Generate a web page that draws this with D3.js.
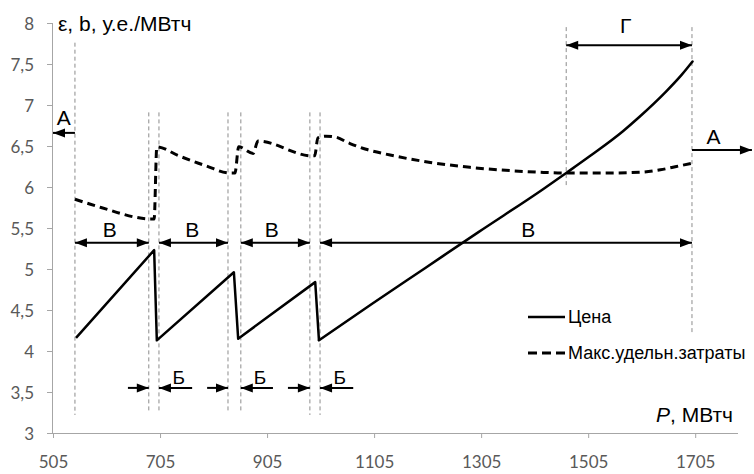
<!DOCTYPE html>
<html>
<head>
<meta charset="utf-8">
<script src="https://cdn.jsdelivr.net/npm/d3@7"></script>
<style>
  body { margin: 0; background: #fff; }
  svg { display: block; }
  .tick text { font-family: Lato, "Open Sans", sans-serif; font-size: 17px; fill: #595959; }
  .note { font-family: "Liberation Sans", Arial, sans-serif; fill: #000; }
</style>
</head>
<body>
<div id="chart"></div>
<script>
// Data
//--------------------------
// price, solid line (P in MWh, value in c.u./MWh); the last part is a smooth curve
var priceP = [548, 694, 699, 843, 851, 995, 1002, 1100, 1200, 1300, 1420, 1466, 1509, 1570, 1600, 1650, 1680, 1700];
var priceV = [4.16, 5.23, 4.13, 4.96, 4.15, 4.84, 4.13, 4.57, 5.01, 5.45, 5.97, 6.18, 6.38, 6.68, 6.85, 7.16, 7.37, 7.53];
var priceCurveFrom = 6; // index where the smooth part starts

// max specific cost, dashed line
var costP = [546, 575, 605, 635, 660, 684, 694, 699, 740, 790, 836, 845, 852, 879, 888, 989, 994, 1000, 1015, 1032, 1060, 1090, 1135, 1210, 1284, 1359, 1415, 1464, 1527, 1602, 1640, 1670, 1699];
var costV = [5.85, 5.79, 5.73, 5.67, 5.63, 5.61, 5.61, 6.49, 6.38, 6.26, 6.17, 6.17, 6.49, 6.41, 6.56, 6.38, 6.38, 6.60, 6.62, 6.61, 6.53, 6.46, 6.39, 6.30, 6.24, 6.20, 6.18, 6.17, 6.17, 6.18, 6.21, 6.25, 6.29];

var xTicks = [505, 705, 905, 1105, 1305, 1505, 1705];
var yTicks = [3, 3.5, 4, 4.5, 5, 5.5, 6, 6.5, 7, 7.5, 8];

// grey guide lines
var guideX = [546, 684, 703, 832, 856, 985, 1004, 1464, 1699];
var guideTop = [7.76, 6.91, 6.91, 6.91, 6.91, 6.91, 6.91, 7.95, 7.95];
var guideBottom = [3.22, 3.26, 3.26, 3.26, 3.26, 3.22, 3.22, 6.0, 4.22];

// "В" spans
var bSpans = [[546, 684], [703, 832], [856, 985], [1004, 1699]];
var bLabelX = [611, 765, 914, 1393];
var bLevel = 5.32;

// "Б" gaps: left arrow start, left guide, right guide, right arrow end
var gGaps = [[645, 684, 703, 765], [793, 832, 856, 916], [944, 985, 1004, 1066]];
var gLabelX = [740, 892, 1041];
var gLevel = 3.55;

var seriesNames = ["Цена", "Макс.удельн.затраты"];

// Sizing
//-------
var svgWidth = 754;
var svgHeight = 474;

var svg = d3.select("#chart")
  .append("svg")
  .attr("width", svgWidth)
  .attr("height", svgHeight);

var x = d3.scaleLinear().domain([505, 1785]).range([53, 738]);
var y = d3.scaleLinear().domain([3, 8]).range([433, 23]);

// Axes
var xAxis = svg.append("g")
  .attr("transform", `translate(0, ${y(3)})`)
  .call(d3.axisBottom(x).tickValues(xTicks).tickSize(5).tickPadding(18).tickFormat(d3.format("d")));

var yAxis = svg.append("g")
  .attr("transform", `translate(${x(505)}, 0)`)
  .call(d3.axisLeft(y).tickValues(yTicks).tickSize(6).tickPadding(13)
    .tickFormat(d => String(d).replace(".", ",")));

svg.selectAll(".domain, .tick line").attr("stroke", "#a6a6a6").attr("stroke-width", 1);
xAxis.select(".domain").attr("d", `M${x(505)},0.5H738`);
yAxis.select(".domain").attr("d", `M-0.5,${y(8)}V${y(3)}`);
yAxis.selectAll(".tick text").attr("dy", "0.36em");

// Guide lines
guideX.forEach(function(g, i) {
  svg.append("line")
    .attr("x1", x(g)).attr("x2", x(g))
    .attr("y1", y(guideTop[i])).attr("y2", y(guideBottom[i]))
    .attr("stroke", "#8c8c8c")
    .attr("stroke-width", 1)
    .attr("stroke-dasharray", "4,3");
});

// Series
var line = d3.line().x(d => x(d[0])).y(d => y(d[1]));
var smooth = d3.line().x(d => x(d[0])).y(d => y(d[1])).curve(d3.curveMonotoneX);

var costData = costP.map((p, i) => [p, costV[i]]);
svg.append("path")
  .datum(costData)
  .attr("d", smooth)
  .attr("fill", "none")
  .attr("stroke", "#000")
  .attr("stroke-width", 3)
  .attr("stroke-dasharray", "8,5");

var priceData = priceP.map((p, i) => [p, priceV[i]]);
svg.append("path")
  .datum(priceData.slice(0, priceCurveFrom + 1))
  .attr("d", line)
  .attr("fill", "none")
  .attr("stroke", "#000")
  .attr("stroke-width", 2.5)
  .attr("stroke-linejoin", "round");
svg.append("path")
  .datum(priceData.slice(priceCurveFrom))
  .attr("d", smooth)
  .attr("fill", "none")
  .attr("stroke", "#000")
  .attr("stroke-width", 2.5)
  .attr("stroke-linecap", "round");

// Arrows
function arrow(x1, x2, yy, headStart, headEnd) {
  var g = svg.append("g");
  g.append("line")
    .attr("x1", x1).attr("x2", x2)
    .attr("y1", yy).attr("y2", yy)
    .attr("stroke", "#000").attr("stroke-width", 2);
  function head(tip, dir) {
    g.append("path")
      .attr("d", `M${tip},${yy}L${tip - dir * 12},${yy - 4.5}L${tip - dir * 12},${yy + 4.5}Z`)
      .attr("fill", "#000");
  }
  var dir = x2 > x1 ? 1 : -1;
  if (headStart) head(x1, -dir);
  if (headEnd) head(x2, dir);
}

function note(txt, px, py, size) {
  svg.append("text")
    .attr("class", "note")
    .attr("x", px).attr("y", py)
    .attr("text-anchor", "middle")
    .attr("font-size", size)
    .text(txt);
}

bSpans.forEach(function(s, i) {
  arrow(x(s[0]), x(s[1]), y(bLevel), true, true);
  note("В", x(bLabelX[i]), y(bLevel) - 6, 21);
});

gGaps.forEach(function(s, i) {
  arrow(x(s[0]), x(s[1]), y(gLevel), false, true);
  arrow(x(s[3]), x(s[2]), y(gLevel), false, true);
  note("Б", x(gLabelX[i]), y(gLevel) - 4, 19);
});

// А on both sides, Г at top
arrow(x(546), x(505), y(6.66), false, true);
note("А", x(525), y(6.66) - 8, 21);
arrow(x(1699), x(1811), y(6.45), false, true);
note("А", x(1739), y(6.45) - 6, 21);
arrow(x(1464), x(1699), y(7.73), true, true);
note("Г", x(1575), y(7.73) - 12, 21);

// Axis titles
svg.append("text")
  .attr("class", "note")
  .attr("x", 58).attr("y", 31)
  .attr("font-size", 21)
  .text("ε, b, у.е./МВтч");

var pTitle = svg.append("text")
  .attr("class", "note")
  .attr("x", 733).attr("y", 422)
  .attr("text-anchor", "end")
  .attr("font-size", 21);
pTitle.append("tspan").attr("font-style", "italic").text("P");
pTitle.append("tspan").text(", МВтч");

// Legend
var legend = svg.append("g").attr("transform", "translate(528, 317)");
seriesNames.forEach(function(name, i) {
  var row = legend.append("g").attr("transform", `translate(0, ${i * 36})`);
  row.append("line")
    .attr("x1", 0).attr("x2", 37)
    .attr("stroke", "#000")
    .attr("stroke-width", i == 0 ? 2.5 : 3)
    .attr("stroke-dasharray", i == 0 ? null : "9,5");
  row.append("text")
    .attr("class", "note")
    .attr("x", 40).attr("y", 6)
    .attr("font-size", 18)
    .text(name);
});
</script>
</body>
</html>
